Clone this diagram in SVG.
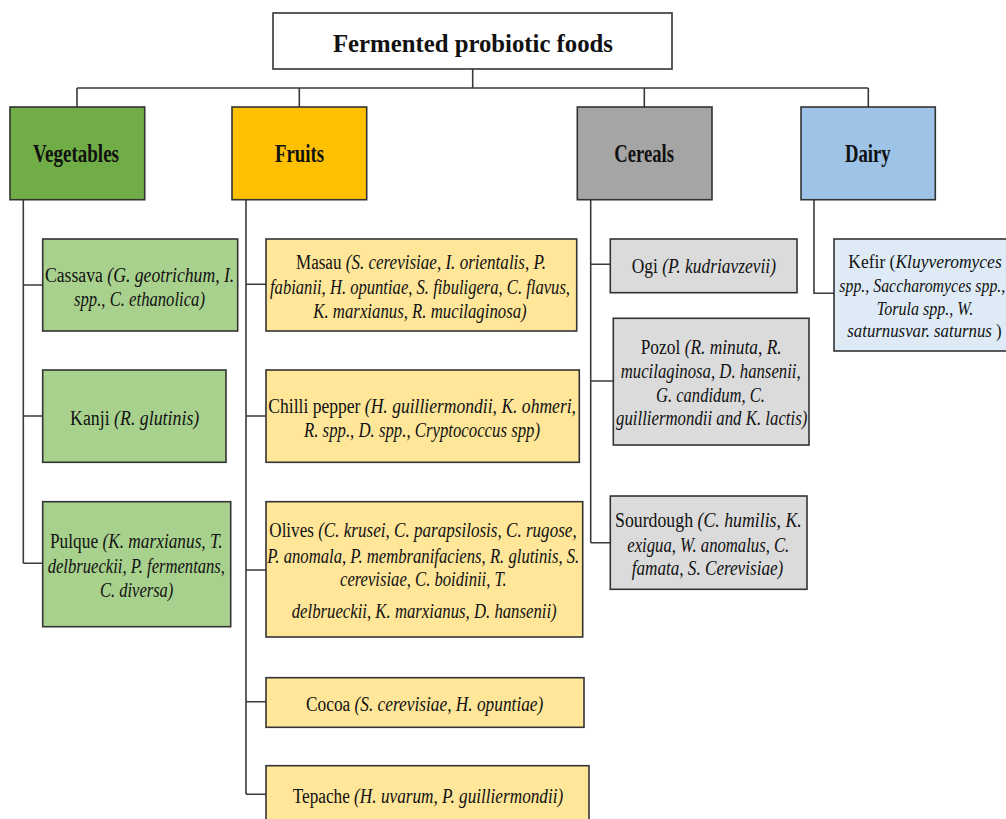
<svg xmlns="http://www.w3.org/2000/svg" width="1006" height="819" viewBox="0 0 1006 819">
<style>
.box{stroke:#333;stroke-width:1.6}
.con{stroke:#3a3a3a;stroke-width:1.6;fill:none}
.t{font-family:"Liberation Serif","Times New Roman",serif;font-size:20.5px;fill:#111}
.k{font-size:19.5px}
.h{font-family:"Liberation Serif","Times New Roman",serif;font-weight:bold;font-size:25px;fill:#111}
.i{font-style:italic}
.veg{fill:#A9D18E}.fru{fill:#FFE699}.cer{fill:#DBDBDB}.dai{fill:#DEEBF7}
</style>
<rect width="1006" height="819" fill="#fff"/>
<g id="connectors" class="con">
<path d="M472.7 69V88M77 88H868.3M77 88V107M299.3 88V107M644.3 88V107M868.3 88V107"/>
<path d="M23.3 200V563.3M23.3 285H42.7M23.3 416H42.7M23.3 563.3H42.7"/>
<path d="M246 200V794.3M246 284.3H266M246 416H266M246 570H266M246 701.7H266M246 794.3H266"/>
<path d="M590.7 200V542.7M590.7 264.3H610.3M590.7 381H613.3M590.7 542.7H610.3"/>
<path d="M814 200V293.3H834"/>
</g>
<g id="root">
<rect class="box" x="273" y="13" width="399" height="56" fill="#fff"/>
<text class="h" x="333" y="51.7" font-size="33" textLength="280" lengthAdjust="spacingAndGlyphs">Fermented probiotic foods</text>
</g>
<g id="vegetables">
<rect class="box" x="10" y="107" width="134.7" height="92.7" fill="#70AD47"/>
<text class="h" x="33" y="161.7" textLength="86" lengthAdjust="spacingAndGlyphs">Vegetables</text>
</g>
<g id="fruits">
<rect class="box" x="232" y="107" width="134.7" height="92.7" fill="#FFC000"/>
<text class="h" x="275" y="162" textLength="49" lengthAdjust="spacingAndGlyphs">Fruits</text>
</g>
<g id="cereals">
<rect class="box" x="577.3" y="107" width="134.7" height="92.7" fill="#A5A5A5"/>
<text class="h" x="614.3" y="162" textLength="59.7" lengthAdjust="spacingAndGlyphs">Cereals</text>
</g>
<g id="dairy">
<rect class="box" x="801" y="107" width="134.3" height="92.7" fill="#9DC3E6"/>
<text class="h" x="845" y="162" textLength="45.7" lengthAdjust="spacingAndGlyphs">Dairy</text>
</g>
<g id="cassava">
<rect class="box veg" x="42.7" y="239" width="195" height="92"/>
<text class="t" x="45" y="281.7" textLength="189.3" lengthAdjust="spacingAndGlyphs">Cassava <tspan class="i">(G. geotrichum, I.</tspan></text>
<text class="t i" x="74" y="306" textLength="131" lengthAdjust="spacingAndGlyphs">spp., C. ethanolica)</text>
</g>
<g id="kanji">
<rect class="box veg" x="42.7" y="370" width="183.3" height="92.3"/>
<text class="t" x="70" y="425" textLength="129.3" lengthAdjust="spacingAndGlyphs">Kanji <tspan class="i">(R. glutinis)</tspan></text>
</g>
<g id="pulque">
<rect class="box veg" x="42.7" y="501.7" width="188" height="125"/>
<text class="t" x="50" y="548.3" textLength="172.7" lengthAdjust="spacingAndGlyphs">Pulque <tspan class="i">(K. marxianus, T.</tspan></text>
<text class="t i" x="47.7" y="573.3" textLength="177.3" lengthAdjust="spacingAndGlyphs">delbrueckii, P. fermentans,</text>
<text class="t i" x="100" y="596.7" textLength="73.3" lengthAdjust="spacingAndGlyphs">C. diversa)</text>
</g>
<g id="masau">
<rect class="box fru" x="266" y="239" width="310.7" height="92"/>
<text class="t" x="296" y="269.3" textLength="250" lengthAdjust="spacingAndGlyphs">Masau <tspan class="i">(S. cerevisiae, I. orientalis, P.</tspan></text>
<text class="t i" x="270" y="294" textLength="300" lengthAdjust="spacingAndGlyphs">fabianii, H. opuntiae, S. fibuligera, C. flavus,</text>
<text class="t i" x="313.3" y="317.7" textLength="213.4" lengthAdjust="spacingAndGlyphs">K. marxianus, R. mucilaginosa)</text>
</g>
<g id="chilli">
<rect class="box fru" x="266" y="370" width="313.3" height="92.3"/>
<text class="t" x="268.3" y="412.7" textLength="307.7" lengthAdjust="spacingAndGlyphs">Chilli pepper <tspan class="i">(H. guilliermondii, K. ohmeri,</tspan></text>
<text class="t i" x="304" y="436.7" textLength="236" lengthAdjust="spacingAndGlyphs">R. spp., D. spp., Cryptococcus spp)</text>
</g>
<g id="olives">
<rect class="box fru" x="266" y="501.7" width="316.7" height="135.3"/>
<text class="t" x="269.3" y="536.7" textLength="307.4" lengthAdjust="spacingAndGlyphs">Olives <tspan class="i">(C. krusei, C. parapsilosis, C. rugose,</tspan></text>
<text class="t i" x="267.3" y="562.7" textLength="312" lengthAdjust="spacingAndGlyphs">P. anomala, P. membranifaciens, R. glutinis, S.</text>
<text class="t i" x="340" y="586" textLength="166.7" lengthAdjust="spacingAndGlyphs">cerevisiae, C. boidinii, T.</text>
<text class="t i" x="291.7" y="617.7" textLength="265" lengthAdjust="spacingAndGlyphs">delbrueckii, K. marxianus, D. hansenii)</text>
</g>
<g id="cocoa">
<rect class="box fru" x="266" y="677.7" width="318" height="49.6"/>
<text class="t" x="306" y="710.7" textLength="237.3" lengthAdjust="spacingAndGlyphs">Cocoa <tspan class="i">(S. cerevisiae, H. opuntiae)</tspan></text>
</g>
<g id="tepache">
<rect class="box fru" x="266" y="765.7" width="323" height="70"/>
<text class="t" x="292.7" y="803.3" textLength="270.6" lengthAdjust="spacingAndGlyphs">Tepache <tspan class="i">(H. uvarum, P. guilliermondii)</tspan></text>
</g>
<g id="ogi">
<rect class="box cer" x="610.3" y="239" width="186.7" height="53.7"/>
<text class="t" x="631.7" y="273.3" textLength="144.3" lengthAdjust="spacingAndGlyphs">Ogi <tspan class="i">(P. kudriavzevii)</tspan></text>
</g>
<g id="pozol">
<rect class="box cer" x="613.3" y="318.3" width="195.7" height="126.7"/>
<text class="t" x="640.7" y="354" textLength="141" lengthAdjust="spacingAndGlyphs">Pozol <tspan class="i">(R. minuta, R.</tspan></text>
<text class="t i" x="620.7" y="378" textLength="180" lengthAdjust="spacingAndGlyphs">mucilaginosa, D. hansenii,</text>
<text class="t i" x="656" y="401.5" textLength="109" lengthAdjust="spacingAndGlyphs">G. candidum, C.</text>
<text class="t i" x="616" y="425" textLength="191.3" lengthAdjust="spacingAndGlyphs">guilliermondii and K. lactis)</text>
</g>
<g id="sourdough">
<rect class="box cer" x="610.3" y="496" width="196.7" height="93.3"/>
<text class="t" x="615" y="527.3" textLength="186.7" lengthAdjust="spacingAndGlyphs">Sourdough <tspan class="i">(C. humilis, K.</tspan></text>
<text class="t i" x="627.3" y="551.7" textLength="162" lengthAdjust="spacingAndGlyphs">exigua, W. anomalus, C.</text>
<text class="t i" x="631.7" y="575" textLength="151.6" lengthAdjust="spacingAndGlyphs">famata, S. Cerevisiae)</text>
</g>
<g id="kefir">
<rect class="box dai" x="834" y="239" width="175" height="112"/>
<text class="t k" x="848.3" y="268" textLength="153.4" lengthAdjust="spacingAndGlyphs">Kefir (<tspan class="i">Kluyveromyces</tspan></text>
<text class="t k i" x="839.3" y="291.5" textLength="166" lengthAdjust="spacingAndGlyphs">spp., Saccharomyces spp.,</text>
<text class="t k i" x="876.7" y="314.5" textLength="96.6" lengthAdjust="spacingAndGlyphs">Torula spp., W.</text>
<text class="t k" x="847.3" y="337" textLength="154.4" lengthAdjust="spacingAndGlyphs"><tspan class="i">saturnusvar. saturnus</tspan> )</text>
</g>
</svg>
